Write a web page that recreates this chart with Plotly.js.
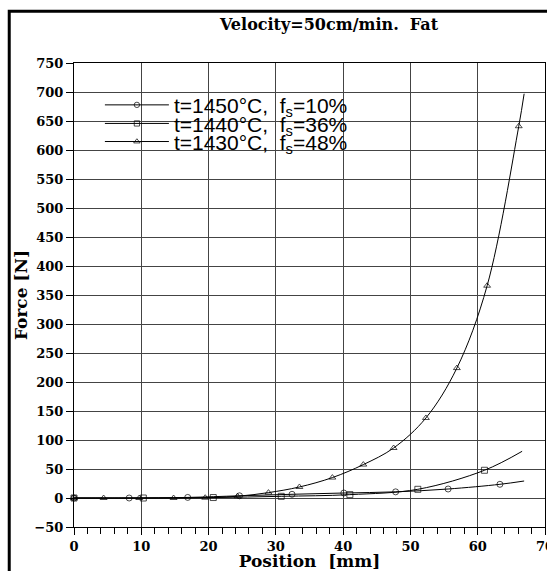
<!DOCTYPE html>
<html>
<head>
<meta charset="utf-8">
<script src="https://cdn.plot.ly/plotly-3.0.1.min.js"></script>
<style>
  html, body { margin: 0; padding: 0; background: #fff; }
  #chart { width: 547px; height: 571px; }
</style>
</head>
<body>
<div id="chart"></div>
<script>
// ---- data ----
const seriesNames = [
  "t=1450°C,\u00a0\u00a0f<sub>s</sub>=10%",
  "t=1440°C,\u00a0\u00a0f<sub>s</sub>=36%",
  "t=1430°C,\u00a0\u00a0f<sub>s</sub>=48%"
];
// 1450 °C (circles); last point = end of fitted curve (no marker)
const xCircle = [0, 8.2, 16.9, 24.6, 32.4, 40.1, 47.8, 55.6, 63.3, 66.9];
const yCircle = [0, 0, 1, 3.8, 6.4, 8.6, 10.6, 15.5, 23.6, 29.3];
// 1440 °C (squares)
const xSquare = [0, 10.3, 20.7, 30.8, 41.0, 51.1, 61.0, 66.6];
const ySquare = [0, 0, 0.8, 2.9, 5.8, 15, 47.8, 80.5];
// 1430 °C (triangles)
const xTri = [0, 4.4, 9.7, 14.8, 19.5, 24.3, 28.9, 33.5, 38.4, 43.0, 47.5, 52.3, 56.9, 61.4, 66.1, 66.9];
const yTri = [0, 0, 0, 0, 0.5, 3, 9.3, 19, 35.2, 57.6, 86.2, 138, 224, 366, 641, 697];

const yTickVals = [-50, 0, 50, 100, 150, 200, 250, 300, 350, 400, 450, 500, 550, 600, 650, 700, 750];
const xTickVals = [0, 10, 20, 30, 40, 50, 60, 70];
const titleText = "Velocity=50cm/min.\u00a0\u00a0Fat";
const xTitle = "Position\u00a0\u00a0[mm]";
const yTitle = "Force\u00a0[N]";

function sizes(n, s) { const a = new Array(n).fill(s); a[n - 1] = 0; return a; }

function series(x, y, name, symbol, legendId) {
  return {
    type: 'scatter', mode: 'lines+markers', x: x, y: y, name: name,
    legend: legendId,
    line: { color: '#000', width: 1, shape: 'spline', smoothing: 1 },
    marker: { symbol: symbol, size: sizes(x.length, 6), color: '#000',
              line: { color: '#000', width: 1 } },
    cliponaxis: false
  };
}

const traces = [
  series(xCircle, yCircle, seriesNames[0], 'circle-open', 'legend'),
  series(xSquare, ySquare, seriesNames[1], 'square-open', 'legend2'),
  series(xTri, yTri, seriesNames[2], 'triangle-up-open', 'legend3')
];

const tickFont = { family: 'DejaVu Serif', size: 13, color: '#000', weight: 'bold' };
const legFont = { family: 'Liberation Sans', size: 21, color: '#000' };
function leg(y) {
  return { x: 0.055, y: y, xanchor: 'left', yanchor: 'middle', bgcolor: 'rgba(0,0,0,0)',
           borderwidth: 0, font: legFont, itemwidth: 64, tracegroupgap: 0 };
}

const layout = {
  width: 547, height: 571,
  margin: { l: 74, r: 2, t: 63, b: 44, pad: 0 },
  paper_bgcolor: '#fff', plot_bgcolor: '#fff',
  showlegend: true,
  title: { text: titleText, x: 0.6015, xref: 'container', xanchor: 'center',
           y: 0.958, yref: 'container', yanchor: 'middle',
           font: { family: 'DejaVu Serif', size: 16, color: '#000', weight: 'bold' } },
  xaxis: {
    range: [0, 70], tickvals: xTickVals, ticks: 'outside', ticklen: 7, tickcolor: '#000',
    tickfont: tickFont, ticklabeloverflow: 'allow',
    showgrid: true, gridcolor: '#444', gridwidth: 1,
    zeroline: false, showline: true, linecolor: '#000', linewidth: 1, mirror: true,
    minor: { dtick: 2, ticks: 'outside', ticklen: 6, tickcolor: '#000', showgrid: false },
    title: { text: xTitle, standoff: 5,
             font: { family: 'DejaVu Serif', size: 17, color: '#000', weight: 'bold' } },
    fixedrange: true
  },
  yaxis: {
    range: [-50, 750], tickvals: yTickVals, ticks: 'outside', ticklen: 7, tickcolor: '#000',
    tickfont: tickFont, showgrid: true, gridcolor: '#444', gridwidth: 1,
    zeroline: false, showline: true, linecolor: '#000', linewidth: 1, mirror: true,
    title: { text: yTitle, standoff: 2,
             font: { family: 'DejaVu Serif', size: 17, color: '#000', weight: 'bold' } },
    fixedrange: true
  },
  legend: leg(0.909),
  legend2: leg(0.869),
  legend3: leg(0.830),
  shapes: [
    { type: 'path', xref: 'paper', yref: 'paper',
      path: 'M -0.1375 -0.2 L -0.1375 1.1114 L 1.2 1.1114',
      line: { color: '#000', width: 3 } }
  ]
};

Plotly.newPlot('chart', traces, layout, { staticPlot: true, displayModeBar: false });
</script>
</body>
</html>
